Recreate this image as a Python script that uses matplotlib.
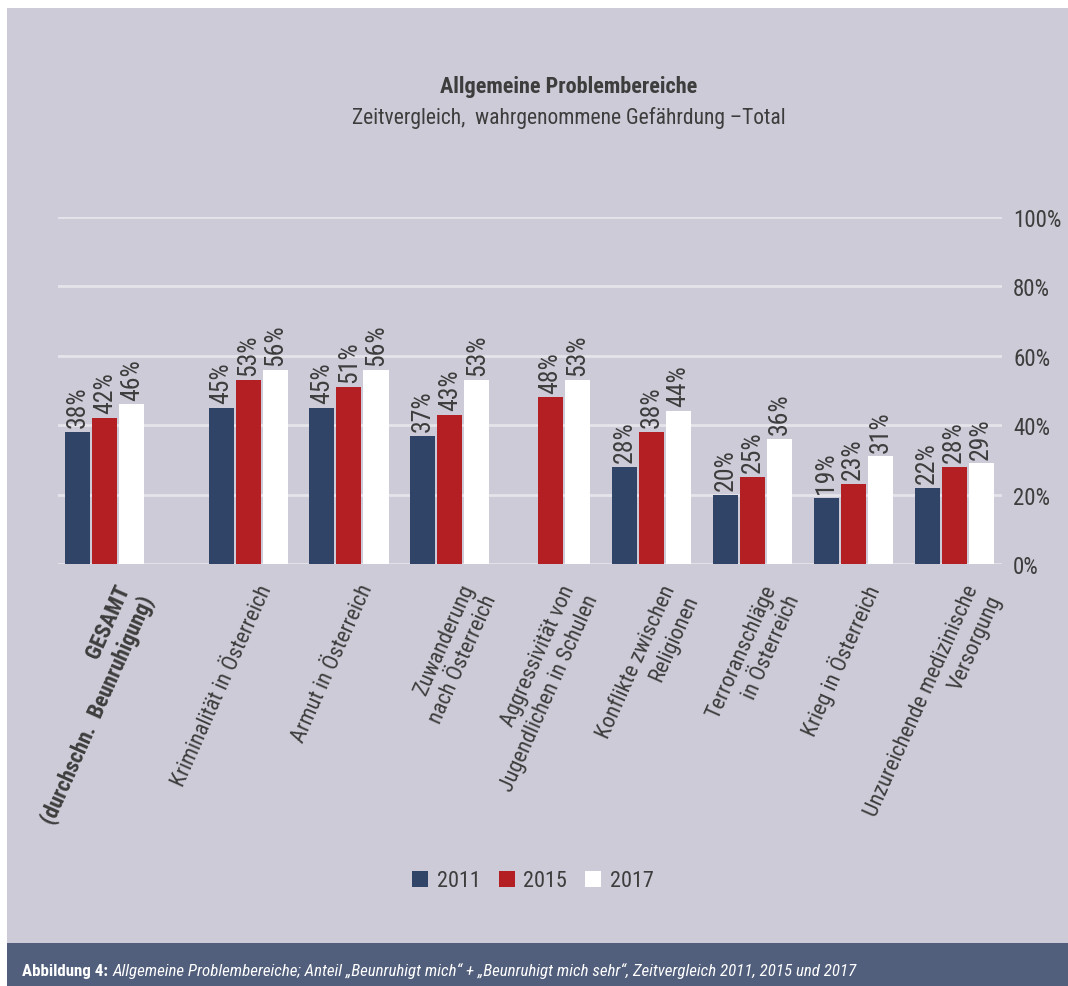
import matplotlib
matplotlib.use("Agg")
import matplotlib.pyplot as plt
import matplotlib.transforms as mtransforms
from matplotlib import font_manager
from matplotlib.patches import Rectangle
import numpy as np

# ---- data -------------------------------------------------------------
categories = [
    "GESAMT\n(durchschn.  Beunruhigung)",
    "Kriminalität in Österreich",
    "Armut in Österreich",
    "Zuwanderung\nnach Österreich",
    "Aggressivität von\nJugendlichen in Schulen",
    "Konflikte zwischen\nReligionen",
    "Terroranschläge\nin Österreich",
    "Krieg in Österreich",
    "Unzureichende medizinische\nVersorgung",
]
years = ["2011", "2015", "2017"]
values_2011 = [38, 45, 45, 37, None, 28, 20, 19, 22]
values_2015 = [42, 53, 51, 43, 48, 38, 25, 23, 28]
values_2017 = [46, 56, 56, 53, 53, 44, 36, 31, 29]
y_ticks = [0, 20, 40, 60, 80, 100]
y_tick_labels = ["0%", "20%", "40%", "60%", "80%", "100%"]

title = "Allgemeine Problembereiche"
subtitle = "Zeitvergleich,  wahrgenommene Gefährdung \u2013Total"
caption_bold = "Abbildung 4:"
caption_rest = ("Allgemeine Problembereiche; Anteil \u201eBeunruhigt mich\u201c + "
                "\u201eBeunruhigt mich sehr\u201c, Zeitvergleich 2011, 2015 und 2017")

# ---- style ------------------------------------------------------------
def pick_font(names):
    for n in names:
        try:
            font_manager.findfont(n, fallback_to_default=False)
            return n
        except Exception:
            continue
    return "DejaVu Sans"

FONT = pick_font(["Roboto Condensed", "Liberation Sans Narrow", "Open Sans", "DejaVu Sans"])
plt.rcParams["font.family"] = [FONT, "DejaVu Sans"]

C_2011 = "#2f4466"
C_2015 = "#b41f23"
C_2017 = "#ffffff"
PANEL = "#cccbd7"
BAND = "#525f7c"
TEXT = "#3d3d3d"
GRID = "#e4e4ea"

W, H = 1068, 987
fig = plt.figure(figsize=(W / 100, H / 100), dpi=100, facecolor="white")

# panel background and caption band
fig.add_artist(Rectangle((7 / W, 1 - 944 / H), 1 - 7 / W, (944 - 9) / H,
                         transform=fig.transFigure, facecolor=PANEL,
                         edgecolor="none", zorder=-10))
fig.add_artist(Rectangle((7 / W, 0), 1 - 7 / W, (987 - 944) / H,
                         transform=fig.transFigure, facecolor=BAND,
                         edgecolor="none", zorder=-10))

ax_left, ax_right = 58 / W, 1002 / W
ax_bottom, ax_top = 1 - 565 / H, 1 - 218 / H
ax = fig.add_axes([ax_left, ax_bottom, ax_right - ax_left, ax_top - ax_bottom])
ax.set_facecolor("none")

# group positions: the overall value stands a little apart from the rest
pos = np.array([0.0] + [1.42 + i for i in range(len(categories) - 1)])
bw = 0.248
step = 0.268

series = [(values_2011, C_2011), (values_2015, C_2015), (values_2017, C_2017)]
bars = []
for k, (vals, col) in enumerate(series):
    xs = pos + (k - 1) * step
    hs = [np.nan if v is None else v for v in vals]
    b = ax.bar(xs, hs, width=bw, color=col, edgecolor="none", zorder=3)
    bars.append(b)
    for x, v in zip(xs, vals):
        if v is None:
            continue
        ax.annotate(f"{v}%", xy=(x, v), xytext=(0, 3.5), textcoords="offset points",
                    rotation=90, ha="center", va="bottom", fontsize=18.5,
                    color=TEXT, zorder=4, annotation_clip=False)

ax.set_xlim(pos[0] - 0.465, pos[-1] + 0.475)
ax.set_ylim(0, 100)
ax.set_yticks(y_ticks, y_tick_labels)
ax.yaxis.tick_right()
ax.tick_params(axis="y", length=0, pad=8, labelsize=16.5, labelcolor=TEXT)
ax.set_xticks([])
ax.grid(axis="y", color=GRID, linewidth=2, zorder=0)
ax.set_axisbelow(True)
for s in ax.spines.values():
    s.set_visible(False)

# rotated category labels under each group
trans = mtransforms.blended_transform_factory(ax.transData, ax.transAxes)
offset = mtransforms.ScaledTranslation(9 / 100, -17 / 100, fig.dpi_scale_trans)
for i, (x, lab) in enumerate(zip(pos, categories)):
    ax.text(x, 0, lab, transform=trans + offset, rotation=66,
            rotation_mode="anchor", ha="right", va="top", multialignment="right",
            fontsize=16, color=TEXT, fontweight="bold" if i == 0 else "normal",
            linespacing=1.28)

# titles
fig.text(569 / W, 1 - 87 / H, title, ha="center", va="center",
         fontsize=16, fontweight="bold", color=TEXT)
fig.text(569 / W, 1 - 118 / H, subtitle, ha="center", va="center",
         fontsize=15.5, color=TEXT)

# legend
fig.legend([b[0] for b in bars], years, loc="center",
           bbox_to_anchor=(533 / W, 1 - 882 / H), ncol=3, frameon=False,
           fontsize=16, handlelength=0.72, handleheight=0.72,
           handletextpad=0.4, columnspacing=0.8, labelcolor=TEXT)

# caption in the bottom band
t1 = fig.text(22 / W, 1 - 976 / H, caption_bold, ha="left", va="baseline",
              fontsize=12.2, fontweight="bold", color="white")
fig.add_artist(matplotlib.text.Annotation(
    caption_rest, xy=(1, 0), xycoords=t1, xytext=(3, 0),
    textcoords="offset points", ha="left", va="bottom",
    fontsize=12.2, fontstyle="italic", color="white"))

fig.savefig("out.png", dpi=100, facecolor="white")
